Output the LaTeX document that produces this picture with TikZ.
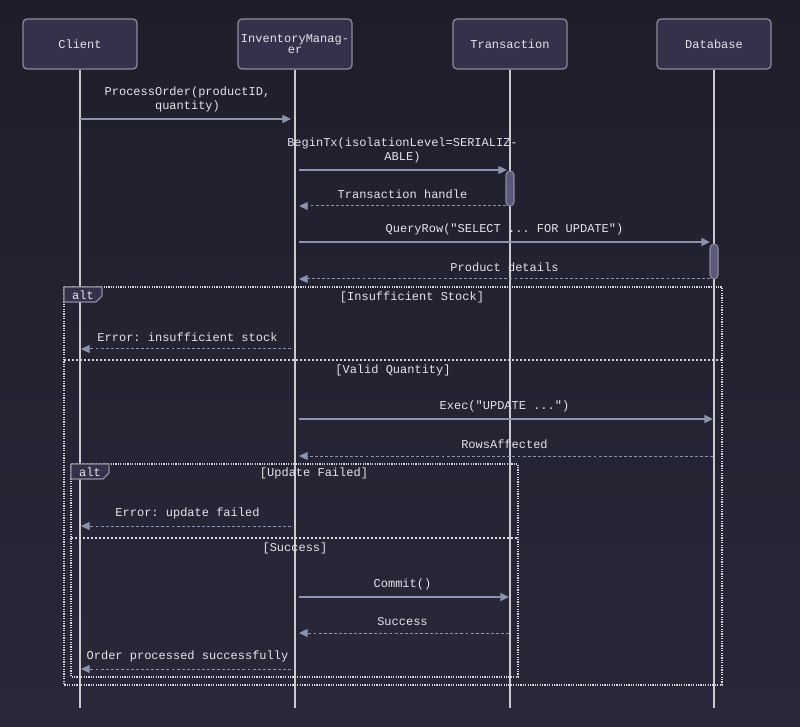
\documentclass[tikz,border=0pt]{standalone}
\usepackage{fontspec}
\setmainfont{Liberation Mono}[Ligatures=TeXOff]
\usetikzlibrary{positioning, arrows.meta,
calc % for the message rows
}
\definecolor{bgtop}{HTML}{1E1E2B}
\definecolor{bgbot}{HTML}{282839}
\definecolor{actorfill}{HTML}{34324A}
\definecolor{actorline}{HTML}{8C8C9C}
\definecolor{lifeline}{HTML}{C9C9D0}
\definecolor{msgcol}{HTML}{8B94AC}
\definecolor{framecol}{HTML}{D6D6DE}
\definecolor{txt}{HTML}{E4E4EC}
\definecolor{actfill}{HTML}{5B5979}
\frenchspacing

\begin{document}
\begin{tikzpicture}[x=0.75pt, y=-0.75pt,%
  every node/.style={text=txt, font=\fontsize{9}{10.5}\selectfont, inner sep=0pt},
  actor/.style={draw=actorline, fill=actorfill, rounded corners=3pt, line width=0.9pt,
    minimum width=85.5pt, minimum height=37.5pt, align=center, font=\fontsize{9}{8.3}\selectfont},
  life/.style={draw=lifeline, line width=1.1pt},
  msg/.style={draw=msgcol, line width=1.1pt, -{Triangle[length=6.5pt, width=6pt]}},
  reply/.style={draw=msgcol, line width=0.75pt, dash pattern=on 2.2pt off 1.6pt, -{Triangle[length=6.5pt, width=6pt]}},
  lbl/.style={above=5pt, align=center},
  activ/.style={draw=actorline, fill=actfill, rounded corners=3pt, line width=0.8pt},
  frame/.style={draw=framecol, line width=0.9pt, dash pattern=on 0.9pt off 0.9pt},
  divider/.style={draw=framecol, line width=0.9pt, dash pattern=on 1.5pt off 1.5pt},
  altbox/.style={draw=actorline, fill=actorfill, line width=0.8pt}
  ]
  \shade[top color=bgtop, bottom color=bgbot] (0,0) rectangle (800,727);
  \useasboundingbox (0,0) rectangle (800,727);

  % actors
  \node[actor] (client) at (80,44) {Client};
  \node[actor, right=74.85pt of client] (inv) {InventoryManag-\\er};
  \node[actor, right=74.85pt of inv] (tx) {Transaction};
  \node[actor, right=66.6pt of tx] (db) {Database};

  \foreach \a in {client, inv, tx, db}
    \draw[life] (\a.south) -- ++(0,638);

  % activations
  \draw[activ] (506,171) rectangle (514,206);
  \draw[activ] (710,244) rectangle (718,279);

  % message rows
  \coordinate (r1) at (0,119);
  \coordinate (r2) at (0,170);
  \coordinate (r3) at (0,206);
  \coordinate (r4) at (0,242);
  \coordinate (r5) at (0,279);
  \coordinate (r6) at (0,349);
  \coordinate (r7) at (0,419);
  \coordinate (r8) at (0,456);
  \coordinate (r9) at (0,526);
  \coordinate (r10) at (0,597);
  \coordinate (r11) at (0,633);
  \coordinate (r12) at (0,669);

  \draw[msg, shorten >=3pt] (client |- r1) -- node[lbl] {ProcessOrder(productID,\\quantity)} (inv |- r1);
  \draw[msg, shorten <=3pt, shorten >=2.3pt] (inv |- r2) -- node[lbl] {BeginTx(isolationLevel=SERIALIZ-\\ABLE)} (tx |- r2);
  \draw[reply, shorten <=3pt, shorten >=3pt] (tx |- r3) -- node[lbl] {Transaction handle} (inv |- r3);
  \draw[msg, shorten <=3pt, shorten >=3pt] (inv |- r4) -- node[lbl] {QueryRow("SELECT ... FOR UPDATE")} (db |- r4);
  \draw[reply, shorten <=3pt, shorten >=3pt] (db |- r5) -- node[lbl] {Product details} (inv |- r5);

  % outer alt
  \draw[frame] (64,287) rectangle (722,685);
  \draw[altbox] (64,287) -- (102,287) -- (102,296) -- (96,302) -- (64,302) -- cycle;
  \node at (83,295.5) {alt};
  \node at (412,297) {[Insufficient Stock]};
  \draw[reply, shorten <=3pt, shorten >=0.75pt] (inv |- r6) -- node[lbl] {Error: insufficient stock} (client |- r6);
  \draw[divider] (64,360) -- (722,360);
  \node at (393,370) {[Valid Quantity]};
  \draw[msg, shorten <=3pt, shorten >=0.75pt] (inv |- r7) -- node[lbl] {Exec("UPDATE ...")} (db |- r7);
  \draw[reply, shorten <=0.75pt, shorten >=3pt] (db |- r8) -- node[lbl] {RowsAffected} (inv |- r8);

  % inner alt
  \draw[frame] (71,464) rectangle (518,677);
  \draw[altbox] (71,464) -- (109,464) -- (109,473) -- (103,479) -- (71,479) -- cycle;
  \node at (90,472.5) {alt};
  \node at (314,473) {[Update Failed]};
  \draw[reply, shorten <=3pt, shorten >=0.75pt] (inv |- r9) -- node[lbl] {Error: update failed} (client |- r9);
  \draw[divider] (71,538) -- (518,538);
  \node at (295,548) {[Success]};
  \draw[msg, shorten <=3pt, shorten >=0.75pt] (inv |- r10) -- node[lbl] {Commit()} (tx |- r10);
  \draw[reply, shorten <=0.75pt, shorten >=3pt] (tx |- r11) -- node[lbl] {Success} (inv |- r11);
  \draw[reply, shorten <=3pt, shorten >=0.75pt] (inv |- r12) -- node[lbl] {Order processed successfully} (client |- r12);
\end{tikzpicture}
\end{document}
